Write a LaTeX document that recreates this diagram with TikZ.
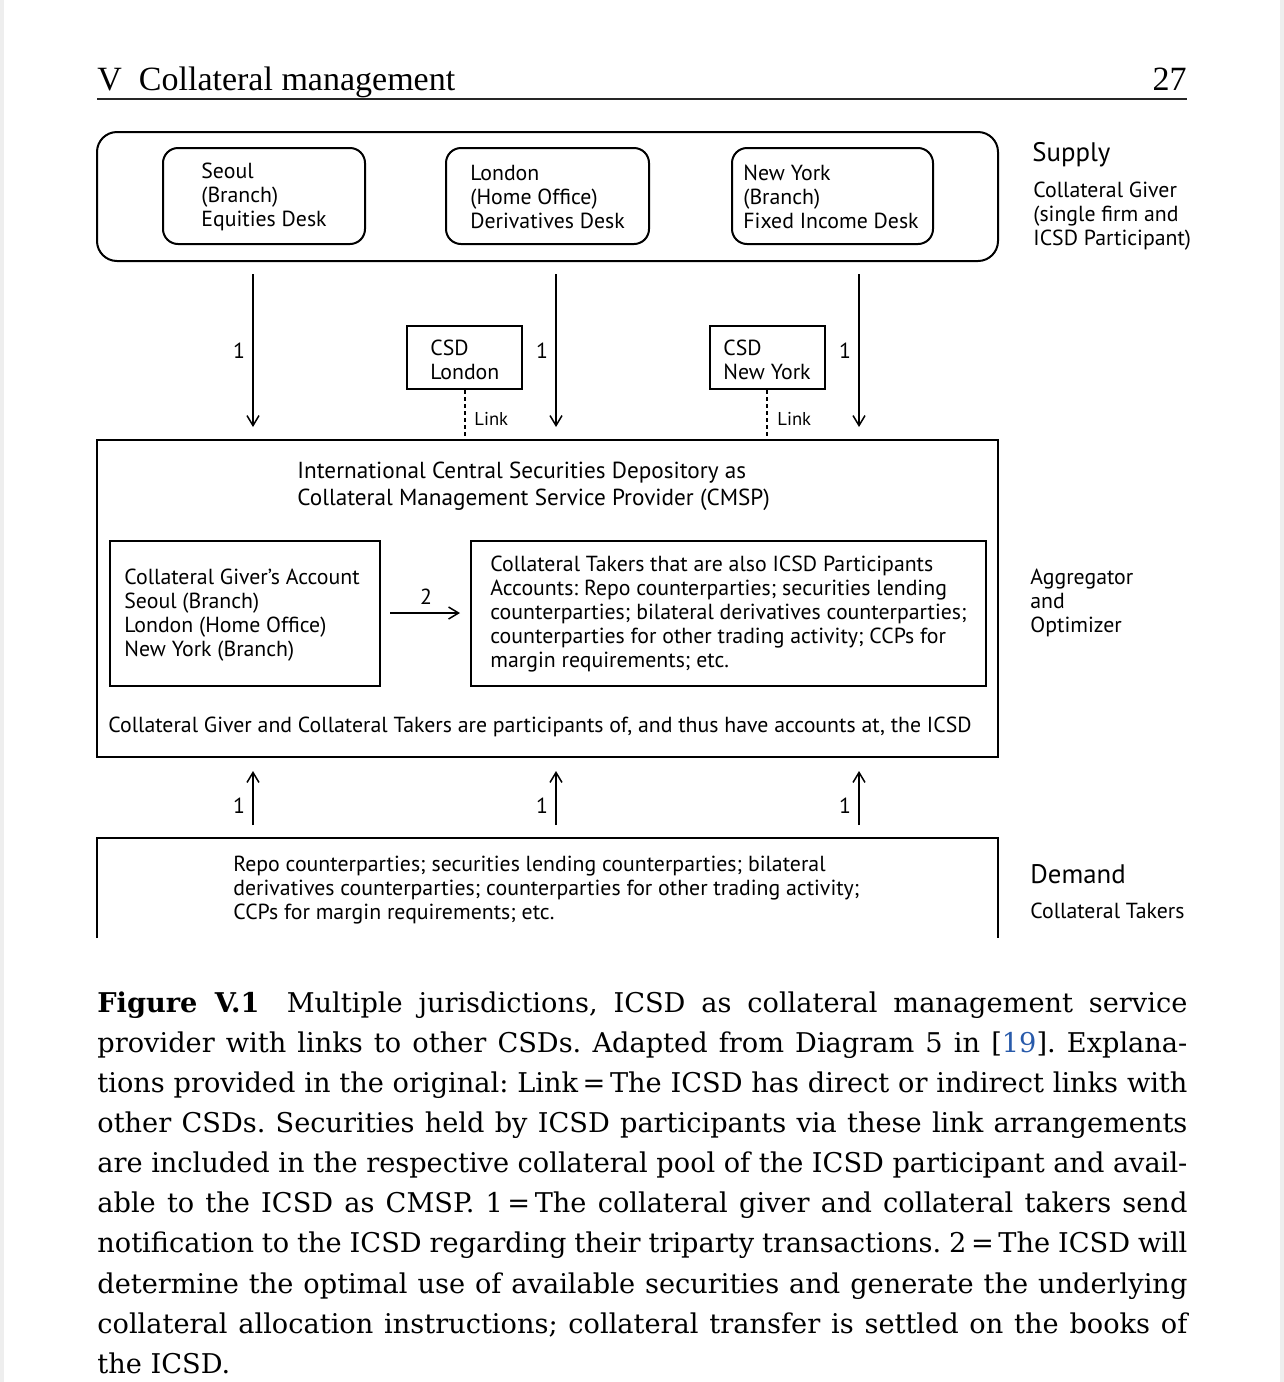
\documentclass[tikz,border=0pt]{standalone}
\usepackage{fontspec}
\setmainfont{DejaVu Serif}
\newfontfamily\dsans{PT Sans}
\newfontfamily\hdr{Liberation Serif}
\usetikzlibrary{arrows.meta,fit}
\definecolor{linkblue}{RGB}{40,90,170}
\definecolor{edgegray}{RGB}{238,238,238}
\frenchspacing
\begin{document}
\begin{tikzpicture}[x=0.5pt,y=-0.5pt,
  box/.style={draw, line width=1pt, inner sep=0pt},
  rbox/.style={box, rounded corners=7.5pt},
  bigrbox/.style={box, rounded corners=10pt},
  txt/.style={font=\dsans\fontsize{10.9}{12}\selectfont, inner sep=0pt, align=left, anchor=west},
  titletxt/.style={font=\dsans\fontsize{11.6}{13.5}\selectfont, inner sep=0pt, align=left, anchor=west},
  bigtxt/.style={font=\dsans\fontsize{13.4}{15}\selectfont, inner sep=0pt, anchor=west},
  linktxt/.style={font=\dsans\fontsize{9.3}{10}\selectfont, inner sep=0pt, anchor=west},
  arr/.style={line width=0.75pt, -{Straight Barb[length=5pt,width=6pt]}},
  linkline/.style={line width=1pt, dash pattern=on 2pt off 1.5pt},
  captxt/.style={font=\fontsize{13.6}{20}\selectfont, inner sep=0pt, anchor=base west}
]
\useasboundingbox (0,0) rectangle (1284,1382);
\fill[edgegray] (0,0) rectangle (4,1382);
\fill[edgegray] (1280,0) rectangle (1284,1382);

% header
\node[font=\hdr\fontsize{17}{20}\selectfont, inner sep=0pt, anchor=base west] (hl) at (97,90) {V\enspace Collateral management};
\node[font=\hdr\fontsize{17}{20}\selectfont, inner sep=0pt, anchor=base east] (hr) at (1187,90) {27};
\draw[line width=1.1pt, black!85] (97,99) -- (1187,99);

% supply box
\node[bigrbox, fit={(97,132)(998,261)}] (supply) {};
\node[rbox, fit={(163,148)(365,244)}] (seoulbox) {};
\node[rbox, fit={(446,148)(649,244)}] (londonbox) {};
\node[rbox, fit={(732,148)(933,244)}] (nybox) {};
\node[txt] (seoul) at (201,197) {Seoul\\(Branch)\\Equities Desk};
\node[txt] (london) at (470,197) {London\\(Home Office)\\Derivatives Desk};
\node[txt] (ny) at (743,197) {New York\\(Branch)\\Fixed Income Desk};

\node[bigtxt] (supplylbl) at (1032,155) {Supply};
\node[txt] (giverlbl) at (1033,216) {Collateral Giver\\(single firm and\\ICSD Participant)};

% CSD boxes
\node[box, fit={(407,326)(522,389)}] (csdl) {};
\node[box, fit={(710,326)(825,389)}] (csdn) {};
\node[txt] (csdltxt) at (430,360) {CSD\\London};
\node[txt] (csdntxt) at (723,360) {CSD\\New York};

% middle box
\node[box, fit={(97,440)(998,757)}] (icsd) {};
\node[titletxt] (icsdtitle) at (297,486) {International Central Securities Depository as\\Collateral Management Service Provider (CMSP)};
\node[box, fit={(110,541)(380,686)}] (giveracc) {};
\node[box, fit={(471,541)(986,686)}] (takersacc) {};
\node[txt] (giveracctxt) at (124,615) {Collateral Giver’s Account\\Seoul (Branch)\\London (Home Office)\\New York (Branch)};
\node[txt] (takersacctxt) at (490,614) {Collateral Takers that are also ICSD Participants\\Accounts: Repo counterparties; securities lending\\counterparties; bilateral derivatives counterparties;\\counterparties for other trading activity; CCPs for\\margin requirements; etc.};
\node[txt] (icsdnote) at (108,727) {Collateral Giver and Collateral Takers are participants of, and thus have accounts at, the ICSD};
\node[txt] (aggrlbl) at (1030,603) {Aggregator\\and\\Optimizer};

% link lines
\coordinate (lkl) at (465,440);
\coordinate (lkn) at (767,440);
\draw[linkline] (csdl.south -| lkl) -- (lkl);
\draw[linkline] (csdn.south -| lkn) -- (lkn);
\node[linktxt] (linkl) at (474,419) {Link};
\node[linktxt] (linkn) at (777,419) {Link};

% down arrows
\foreach \xx/\nm in {253/a,556/b,859/c}{
  \coordinate (d\nm s) at (\xx,274);
  \coordinate (d\nm e) at (\xx,427);
  \draw[arr] (d\nm s) -- (d\nm e);
  \node[txt, anchor=center] (d\nm lbl) at (\xx-14,351) {1};
}

% arrow 2
\coordinate (twos) at (390,613);
\coordinate (twoe) at (460,613);
\draw[arr] (twos) -- (twoe);
\node[txt, anchor=center] (twolbl) at (426,597) {2};

% up arrows
\foreach \xx/\nm in {253/a,556/b,859/c}{
  \coordinate (u\nm s) at (\xx,825);
  \coordinate (u\nm e) at (\xx,771);
  \draw[arr] (u\nm s) -- (u\nm e);
  \node[txt, anchor=center] (u\nm lbl) at (\xx-14,806) {1};
}

% demand box (open at the bottom)
\coordinate (dbl) at (97,938);
\coordinate (dtl) at (97,838);
\coordinate (dtr) at (998,838);
\coordinate (dbr) at (998,938);
\draw[line width=1pt] (dbl) -- (dtl) -- (dtr) -- (dbr);
\node[txt] (demandtxt) at (233,890) {Repo counterparties; securities lending counterparties; bilateral\\derivatives counterparties; counterparties for other trading activity;\\CCPs for margin requirements; etc.};
\node[bigtxt] (demandlbl) at (1030,874) {Demand};
\node[txt] (takerslbl) at (1030,911) {Collateral Takers};

% caption
\node[captxt] (c1) at (97,1012) {\makebox[545pt][s]{\textbf{Figure V.1}\quad Multiple jurisdictions, ICSD as collateral management service}};
\node[captxt] (c2) at (97,1052) {\makebox[545pt][s]{provider with links to other CSDs. Adapted from Diagram 5 in [\textcolor{linkblue}{19}]. Explana-}};
\node[captxt] (c3) at (97,1092) {\makebox[545pt][s]{tions provided in the original: Link\,=\,The ICSD has direct or indirect links with}};
\node[captxt] (c4) at (97,1132) {\makebox[545pt][s]{other CSDs. Securities held by ICSD participants via these link arrangements}};
\node[captxt] (c5) at (97,1172) {\makebox[545pt][s]{are included in the respective collateral pool of the ICSD participant and avail-}};
\node[captxt] (c6) at (97,1212) {\makebox[545pt][s]{able to the ICSD as CMSP. 1\,=\,The collateral giver and collateral takers send}};
\node[captxt] (c7) at (97,1252) {\makebox[545pt][s]{notification to the ICSD regarding their triparty transactions. 2\,=\,The ICSD will}};
\node[captxt] (c8) at (97,1293) {\makebox[545pt][s]{determine the optimal use of available securities and generate the underlying}};
\node[captxt] (c9) at (97,1333) {\makebox[545pt][s]{collateral allocation instructions; collateral transfer is settled on the books of}};
\node[captxt] (c10) at (97,1373) {the ICSD.};
\end{tikzpicture}
\end{document}
